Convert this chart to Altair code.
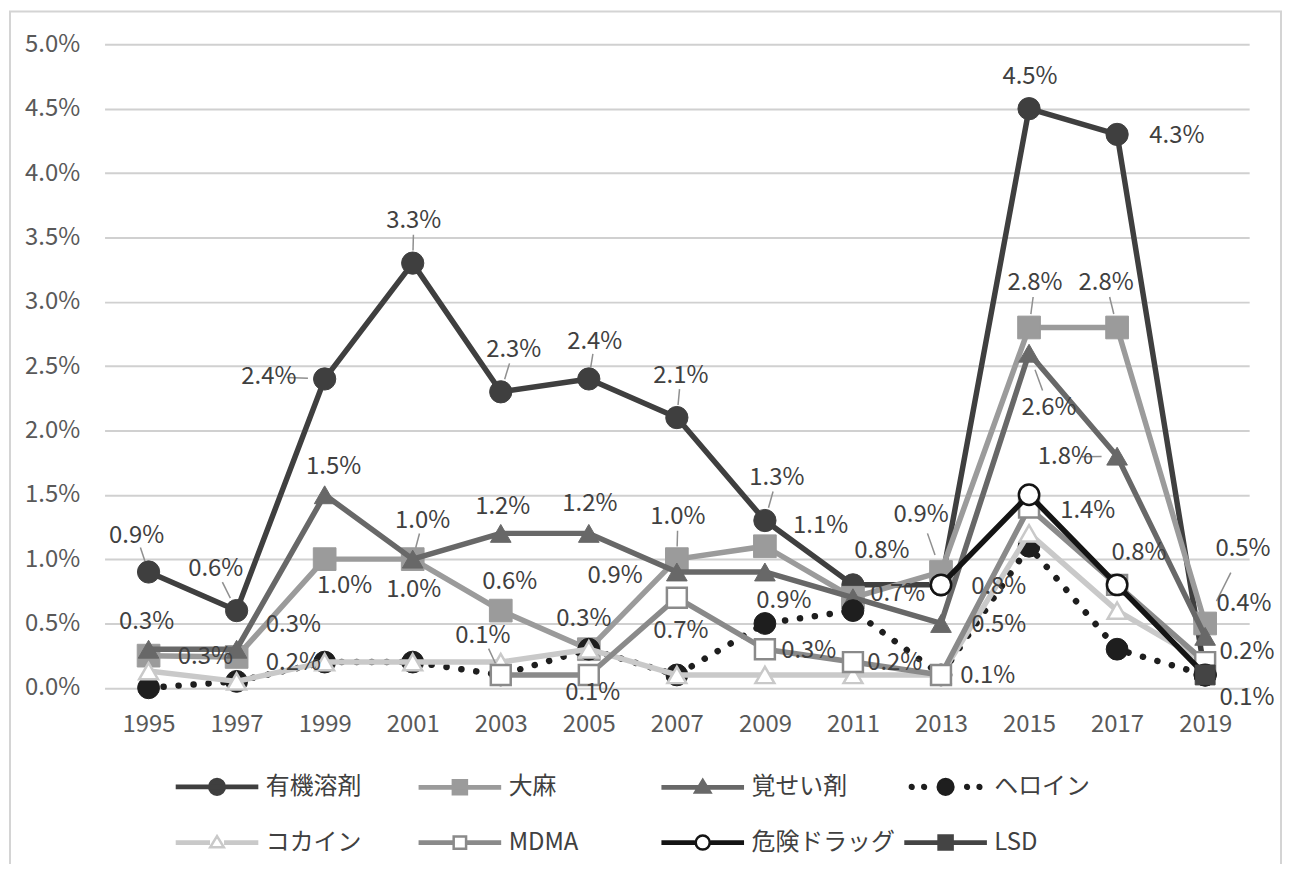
import altair as alt
import pandas as pd

FONT = "Noto Sans CJK JP"

years = [1995, 1997, 1999, 2001, 2003, 2005, 2007, 2009, 2011, 2013, 2015, 2017, 2019]
series_names = ["有機溶剤", "大麻", "覚せい剤", "ヘロイン", "コカイン", "MDMA", "危険ドラッグ", "LSD"]

organic = [0.9, 0.6, 2.4, 3.3, 2.3, 2.4, 2.1, 1.3, 0.8, 0.8, 4.5, 4.3, 0.1]
cannabis = [0.25, 0.24, 1.0, 1.0, 0.6, 0.3, 1.0, 1.1, 0.7, 0.9, 2.8, 2.8, 0.5]
meth = [0.3, 0.3, 1.5, 1.0, 1.2, 1.2, 0.9, 0.9, 0.7, 0.5, 2.6, 1.8, 0.4]
heroin = [0.0, 0.05, 0.2, 0.2, 0.1, 0.3, 0.1, 0.5, 0.6, 0.1, 1.1, 0.3, 0.1]
cocaine = [0.13, 0.05, 0.2, 0.2, 0.2, 0.3, 0.1, 0.1, 0.1, 0.1, 1.2, 0.6, 0.2]
mdma = [None, None, None, None, 0.1, 0.1, 0.7, 0.3, 0.2, 0.1, 1.4, 0.8, 0.2]
dangerous = [None, None, None, None, None, None, None, None, None, 0.8, 1.5, 0.8, 0.1]
lsd = [None, None, None, None, None, None, None, None, None, None, None, None, 0.1]

values_by_series = [organic, cannabis, meth, heroin, cocaine, mdma, dangerous, lsd]

# ---- styles ----
LINE_COLOR = {"有機溶剤": "#3f3f3f", "大麻": "#9b9b9b", "覚せい剤": "#686868", "ヘロイン": "#1e1e1e",
              "コカイン": "#c9c9c9", "MDMA": "#8a8a8a", "危険ドラッグ": "#141414", "LSD": "#444444"}
HOLLOW = {"コカイン", "MDMA", "危険ドラッグ"}
SHAPE = {"有機溶剤": "circle", "大麻": "square", "覚せい剤": "triangle-up", "ヘロイン": "circle",
         "コカイン": "triangle-up", "MDMA": "square", "危険ドラッグ": "circle", "LSD": "square"}
MSIZE = {"有機溶剤": 500, "大麻": 520, "覚せい剤": 430, "ヘロイン": 480,
         "コカイン": 360, "MDMA": 400, "危険ドラッグ": 420, "LSD": 400}

LABEL_OFFSETS = {
    "有機溶剤": {1995: (-12, -36), 1997: (-21, -42), 1999: (-56, -2), 2001: (1, -42), 2003: (13, -42),
             2005: (6, -37), 2007: (4, -42), 2009: (12, -43), 2011: (29, -34), 2013: (58, 2),
             2015: (1, -32), 2017: (60, 2), 2019: (42, 23)},
    "大麻": {1995: (57, 1), 1997: (57, 6), 1999: (20, 27), 2001: (1, 31), 2003: (9, -29), 2005: (-5, -30),
           2007: (1, -42), 2009: (56, -20), 2011: (45, -4), 2013: (-20, -57), 2015: (6, -45),
           2017: (-11, -45), 2019: (38, -75)},
    "覚せい剤": {1995: (-2, -27), 1997: (57, -24), 1999: (9, -28), 2001: (10, -38), 2003: (2, -26),
             2005: (1, -29), 2007: (-62, 4), 2009: (19, 29), 2013: (58, 2), 2015: (20, 55),
             2017: (-52, 1), 2019: (39, -32)},
    "MDMA": {2003: (-18, -39), 2005: (4, 18), 2007: (4, 33), 2009: (44, 2), 2011: (42, 1),
             2013: (47, 1), 2015: (59, 3), 2017: (22, -32), 2019: (42, -10)},
}
# labels that carry a thin leader line back to their marker
LEADERS = [("有機溶剤", 1995), ("有機溶剤", 1997), ("有機溶剤", 1999), ("有機溶剤", 2001),
           ("有機溶剤", 2003), ("有機溶剤", 2005), ("有機溶剤", 2007), ("有機溶剤", 2009),
           ("大麻", 2007), ("大麻", 2013), ("大麻", 2015), ("大麻", 2017), ("大麻", 2019),
           ("覚せい剤", 2001), ("覚せい剤", 2015), ("覚せい剤", 2017), ("MDMA", 2003)]

# ---- long table (segments split at gaps) ----
rows = []
for name, vals in zip(series_names, values_by_series):
    seg = 0
    prev_valid = False
    for yr, v in zip(years, vals):
        if v is None:
            prev_valid = False
            continue
        if not prev_valid:
            seg += 1
        prev_valid = True
        rows.append({"series": name, "year": yr, "value": v, "seg": seg})
df = pd.DataFrame(rows)

W, H = 1150, 646.5

x_axis = alt.Axis(values=years, format="d", grid=False, domain=False, ticks=False, title=None,
                  labelFont=FONT, labelFontSize=24, labelColor="#595959", labelPadding=25)
y_axis = alt.Axis(values=[i * 0.5 for i in range(11)], labelExpr="format(datum.value, '.1f') + '%'",
                  grid=True, gridColor="#d0d0d0", gridWidth=2, domain=False, ticks=False, title=None,
                  labelFont=FONT, labelFontSize=24, labelColor="#595959", labelPadding=25)
X = alt.X("year:Q", scale=alt.Scale(domain=[1994, 2020], nice=False, zero=False), axis=x_axis)
Y = alt.Y("value:Q", scale=alt.Scale(domain=[0, 5], nice=False), axis=y_axis)

layers = []

# outer frame
frame = alt.Chart(pd.DataFrame({"k": [0]})).mark_rect(
    fill="transparent", stroke="#d4d4d4", strokeWidth=2
).encode(x=alt.value(-95), x2=alt.value(1182), y=alt.value(-33), y2=alt.value(840))
layers.append(frame)

for name in series_names:
    col = LINE_COLOR[name]
    sub = alt.Chart(df).transform_filter(alt.datum.series == name)
    if name == "ヘロイン":
        line = sub.mark_line(color=col, strokeWidth=6.5, strokeDash=[0.1, 15], strokeCap="round")
    else:
        line = sub.mark_line(color=col, strokeWidth=5.5, strokeJoin="round")
    layers.append(line.encode(x=X, y=Y, detail="seg:N"))
    if name in HOLLOW:
        pt = sub.mark_point(shape=SHAPE[name], size=MSIZE[name], filled=True, fill="white",
                            stroke=col, strokeWidth=2.5, opacity=1)
    else:
        pt = sub.mark_point(shape=SHAPE[name], size=MSIZE[name], filled=True, fill=col,
                            stroke=col, strokeWidth=1, opacity=1)
    layers.append(pt.encode(x=X, y=Y))

# leader lines (custom path symbol; size 4 -> path units are pixels)
for name, yr in LEADERS:
    dx, dy = LABEL_OFFSETS[name][yr]
    path = f"M{0.68 * dx:.1f},{0.68 * dy:.1f}L{0.3 * dx:.1f},{0.3 * dy:.1f}"
    ld = (alt.Chart(df)
          .transform_filter((alt.datum.series == name) & (alt.datum.year == yr))
          .mark_point(shape=path, size=4, filled=False, stroke="#8f8f8f", strokeWidth=1.5, opacity=1)
          .encode(x=X, y=Y))
    layers.append(ld)

# data labels
for name, offs in LABEL_OFFSETS.items():
    for yr, (dx, dy) in offs.items():
        t = (alt.Chart(df)
             .transform_filter((alt.datum.series == name) & (alt.datum.year == yr))
             .transform_calculate(label="format(datum.value, '.1f') + '%'")
             .mark_text(dx=dx, dy=dy, font=FONT, fontSize=24, color="#404040",
                        align="center", baseline="middle")
             .encode(x=X, y=Y, text="label:N"))
        layers.append(t)

# ---- legend: custom symbols (line + marker) ----
def circle(r):
    return f"M{-r},0A{r},{r} 0 1,0 {r},0A{r},{r} 0 1,0 {-r},0Z"

def square(s):
    return f"M{-s},{-s}L{s},{-s}L{s},{s}L{-s},{s}Z"

def tri(t):
    return f"M0,{-t * 1.05}L{t * 1.1},{t * 0.75}L{-t * 1.1},{t * 0.75}Z"

h = 0.029
full_line = f"M-1,{-h}L1,{-h}M-1,{h}L1,{h}"

def split_line(g):
    return (f"M-1,{-h}L{-g},{-h}M-1,{h}L{-g},{h}"
            f"M{g},{-h}L1,{-h}M{g},{h}L1,{h}")

def dot_at(cx, r=0.045):
    return f"M{cx - r},0A{r},{r} 0 1,0 {cx + r},0A{r},{r} 0 1,0 {cx - r},0Z"

legend_paths = [
    full_line + circle(0.19),
    full_line + square(0.17),
    full_line + tri(0.17),
    dot_at(-0.82) + dot_at(-0.52) + circle(0.19) + dot_at(0.52) + dot_at(0.82),
    split_line(0.17) + tri(0.15),
    split_line(0.16) + square(0.15),
    split_line(0.19) + circle(0.17),
    full_line + square(0.17),
]
legend_fill = [LINE_COLOR[n] if n not in HOLLOW else "white" for n in series_names]
legend_stroke = [LINE_COLOR[n] for n in series_names]

leg = alt.Legend(title=None, orient="none", legendX=70, legendY=703, columns=4, direction="horizontal",
                 gridAlign="all", columnPadding=4, rowPadding=-9, symbolSize=6889, symbolStrokeWidth=2.5,
                 labelFont=FONT, labelFontSize=24, labelColor="#404040", labelOffset=6,
                 symbolOffset=0, padding=0)

legend_layer = alt.Chart(df).transform_filter("false").mark_point(
    filled=True, strokeWidth=2.5, opacity=1
).encode(
    x=X, y=Y,
    shape=alt.Shape("series:N", scale=alt.Scale(domain=series_names, range=legend_paths), legend=leg),
    fill=alt.Fill("series:N", scale=alt.Scale(domain=series_names, range=legend_fill), legend=leg),
    stroke=alt.Stroke("series:N", scale=alt.Scale(domain=series_names, range=legend_stroke), legend=leg),
)
layers.append(legend_layer)

chart = alt.layer(*layers).properties(
    width=W, height=H,
    autosize=alt.AutoSizeParams(type="none"),
    padding={"left": 97, "top": 34.5, "right": 36, "bottom": 175},
).configure_view(stroke=None)

chart.save("out.html", embed_options={"renderer": "svg", "actions": False})
